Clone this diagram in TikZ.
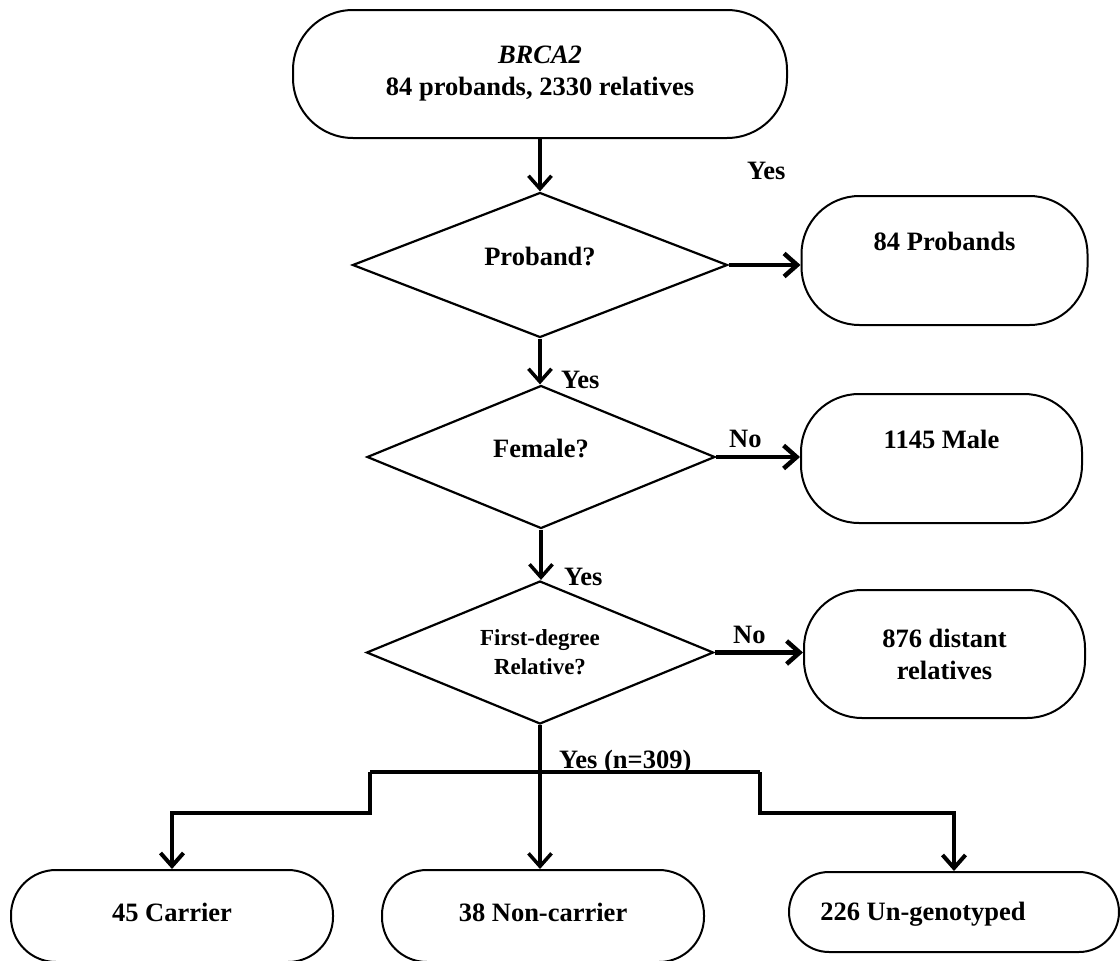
\documentclass[tikz,border=0pt]{standalone}
\usepackage{fontspec}
\setmainfont{Liberation Serif}
\usetikzlibrary{shapes.geometric,arrows.meta}
\begin{document}
\begin{tikzpicture}[x=1pt,y=-1pt,
  font=\fontsize{26.5}{32}\selectfont\bfseries,
  stad/.style={draw, line width=2pt, rounded corners=#1, inner sep=0pt, align=center},
  dia/.style={draw, diamond, line width=2.2pt, inner sep=0pt, aspect=2.6, align=center},
  lab/.style={anchor=base west, inner sep=0pt},
  tip/.style={-{Straight Barb[length=13pt,width=23pt]}},
  varr/.style={tip, line width=3.5pt},
  harr/.style={tip, line width=4.5pt},
  bar/.style={line width=4pt, line join=miter}]
\clip (0,0) rectangle (1120,961);
% main nodes
\node[stad=60pt, minimum width=494pt, minimum height=128pt] (top) at (540,74)
  {\textit{BRCA2}\\84 probands, 2330 relatives};
\node[dia, minimum width=375pt, minimum height=145pt, text height=17pt, text depth=17pt] (d1) at (540,265) {Proband?};
\node[dia, minimum width=348pt, minimum height=143pt, text height=17pt, text depth=17pt] (d2) at (541,457) {Female?};
\node[dia, minimum width=347pt, minimum height=143pt, font=\fontsize{23}{29}\selectfont\bfseries] (d3) at (540,652.5) {First-degree\\Relative?};
% right side nodes
\node[stad=58pt, minimum width=286pt, minimum height=129pt, text height=17pt, text depth=38pt] (p) at (944.5,260.5) {84 Probands};
\node[stad=58pt, minimum width=281pt, minimum height=129pt, text height=17pt, text depth=38pt] (m) at (941.5,458.5) {1145 Male};
\node[stad=58pt, minimum width=281pt, minimum height=128pt] (dr) at (944.5,654) {876 distant\\relatives};
% bottom nodes
\node[stad=45pt, minimum width=322pt, minimum height=92pt, text height=17pt, text depth=7pt] (c1) at (172,916) {45 Carrier};
\node[stad=45pt, minimum width=322pt, minimum height=92pt, text height=17pt, text depth=7pt] (c2) at (543,916) {38 Non-carrier};
\node[stad=40pt, minimum width=330pt, minimum height=80pt, text height=17pt, text depth=0pt] (c3) at (954,912) {226 Un-genotyped\hspace*{62pt}};
% labels
\node[lab] (yes1) at (747,179) {Yes};
\node[lab] (yes2) at (561,388) {Yes};
\node[lab] (no2) at (729,447) {No};
\node[lab] (yes3) at (564,585) {Yes};
\node[lab] (no3) at (733,643) {No};
\node[lab] (yes4) at (559,768) {Yes (n=309)};
% connectors
\draw[varr] (top.south) -- (d1.north);
\draw[harr] (d1.east) -- (d1.east -| p.west);
\draw[varr] (d1.south) -- (d1.south |- d2.north);
\draw[harr] (d2.east) -- (d2.east -| m.west);
\draw[varr] (d2.south) -- (d2.south |- d3.north);
\draw[harr] (d3.east) -- (d3.east -| dr.west);
\draw[varr] (d3.south) -- (d3.south |- c2.north);
% branch
\coordinate (bL) at (370,772);
\coordinate (bR) at (760,772);
\coordinate (sL) at (370,813);
\coordinate (sR) at (760,813);
\draw[bar] (bL) -- (bR);
\draw[bar, tip] (bL) -- (sL) -| (c1.north);
\draw[bar, tip] (bR) -- (sR) -| (c3.north);
\end{tikzpicture}
\end{document}
